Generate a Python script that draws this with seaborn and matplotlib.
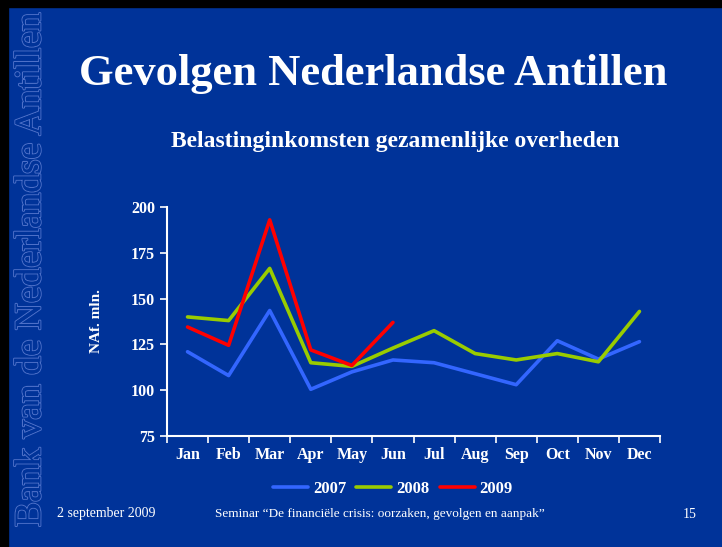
import numpy as np
import pandas as pd
import matplotlib.pyplot as plt
import matplotlib.patheffects as pe
from matplotlib.patches import Rectangle
import seaborn as sns

# Data (NAf. mln.)
months = ['Jan', 'Feb', 'Mar', 'Apr', 'May', 'Jun',
          'Jul', 'Aug', 'Sep', 'Oct', 'Nov', 'Dec']
y2007 = [121, 108, 143.5, 100.5, 110, 116.5, 115, 109, 103, 127, 117, 126.5]
y2008 = [140, 138, 166.5, 115, 113, 123, 132.5, 120, 116.5, 120, 115.5, 143]
y2009 = [134.5, 124.5, 193, 122, 113.5, 137]

bg = '#003399'
colors = {'2007': '#3366FF', '2008': '#99CC00', '2009': '#FF0000'}

rows = []
for year, vals in [('2007', y2007), ('2008', y2008), ('2009', y2009)]:
    for i, v in enumerate(vals):
        rows.append({'pos': i, 'value': v, 'year': year})
df = pd.DataFrame(rows)

sns.set_style('white')
plt.rcParams['font.family'] = ['Liberation Serif', 'DejaVu Serif']

fig = plt.figure(figsize=(7.22, 5.47), dpi=100, facecolor=bg)
# black frame edge of the slide screenshot
fig.patches.append(Rectangle((0, 1 - 7 / 547), 1, 7 / 547, transform=fig.transFigure,
                             color='black', zorder=0))
fig.patches.append(Rectangle((0, 0), 8 / 722, 1, transform=fig.transFigure,
                             color='black', zorder=0))

ax = fig.add_axes([167 / 722, 111 / 547, 493 / 722, 229 / 547])
ax.set_facecolor(bg)
sns.lineplot(data=df, x='pos', y='value', hue='year', palette=colors,
             linewidth=2.6, ax=ax, legend=False)

ax.set_xlim(-0.5, 11.5)
ax.set_ylim(75, 200)
ax.set_yticks([75, 100, 125, 150, 175, 200])
ax.set_xticks(range(12))
ax.set_xticklabels(months)
ax.set_xticks(np.arange(-0.5, 12, 1), minor=True)
ax.tick_params(axis='x', which='major', bottom=True, length=0, pad=8,
               colors='white', labelsize=11.5)
ax.tick_params(axis='x', which='minor', bottom=True, length=5, width=1.2,
               color='white', direction='out')
ax.tick_params(axis='y', left=True, length=5, width=1.2, color='white',
               labelcolor='white', labelsize=11.5, direction='out')
for lab in ax.get_xticklabels() + ax.get_yticklabels():
    lab.set_fontweight('bold')
for side in ['top', 'right']:
    ax.spines[side].set_visible(False)
for side in ['left', 'bottom']:
    ax.spines[side].set_color('white')
    ax.spines[side].set_linewidth(1.5)
ax.set_xlabel('')
ax.set_ylabel('NAf. mln.', color='white', fontsize=11, fontweight='bold', labelpad=20)

handles = [plt.Line2D([], [], color=colors[y], linewidth=2.6) for y in ['2007', '2008', '2009']]
leg = fig.legend(handles, ['2007', '2008', '2009'], loc='center', ncol=3,
                 bbox_to_anchor=(393 / 722, 1 - 489 / 547), frameon=False,
                 handlelength=2.1, handletextpad=0.3, columnspacing=0.6,
                 prop={'weight': 'bold', 'size': 12})
for t in leg.get_texts():
    t.set_color('white')

fig.text(373 / 722, 1 - 74 / 547, 'Gevolgen Nederlandse Antillen', color='white',
         fontsize=32, fontweight='bold', ha='center', va='center')
fig.text(395 / 722, 1 - 141 / 547, 'Belastinginkomsten gezamenlijke overheden',
         color='white', fontsize=17, fontweight='bold', ha='center', va='center')

fig.text(57 / 722, 1 - 514 / 547, '2 september 2009', color='white', fontsize=10,
         ha='left', va='center')
fig.text(380 / 722, 1 - 514 / 547,
         'Seminar \u201cDe financi\u00eble crisis: oorzaken, gevolgen en aanpak\u201d',
         color='white', fontsize=9.5, ha='center', va='center')
fig.text(690 / 722, 1 - 514 / 547, '15', color='white', fontsize=10,
         ha='center', va='center')

wm = fig.text(31 / 722, 1 - 270 / 547, 'Bank van de Nederlandse Antillen',
              rotation=90, fontsize=27, color=bg, ha='center', va='center')
wm.set_path_effects([pe.withStroke(linewidth=1.6, foreground='#4D70C8'), pe.Normal()])

fig.savefig('out.png', dpi=100, facecolor=bg)
